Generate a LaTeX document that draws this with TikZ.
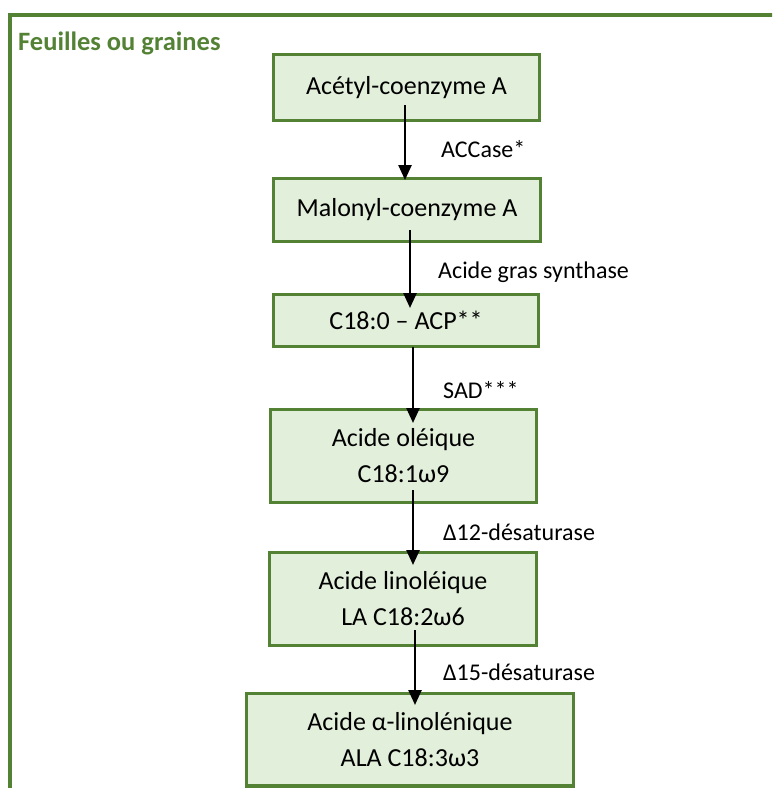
\documentclass[tikz,border=0pt]{standalone}
\usepackage{fontspec}
\setmainfont{Carlito}
\usetikzlibrary{arrows.meta,calc}
\definecolor{gborder}{HTML}{548235}
\definecolor{gfill}{HTML}{E2EFDA}
\begin{document}
\begin{tikzpicture}[x=1pt,y=-1pt,
  stepbox/.style={draw=gborder, fill=gfill, line width=3.2pt, outer sep=0pt, inner sep=0pt,
    align=center, font=\fontsize{26}{36}\selectfont},
  lbl/.style={anchor=base west, inner sep=0pt, font=\fontsize{24}{28}\selectfont},
  arr/.style={line width=2.5pt, -{Triangle[length=15pt,width=13pt]}}]
\useasboundingbox (0,0) rectangle (772,788);
\clip (0,0) rectangle (772,788);
\draw[gborder, line width=4pt] (9.5,800) -- (9.5,14.5) -- (790,14.5);
\node[anchor=base west, inner sep=0pt, text=gborder, font=\fontsize{26.5}{30}\selectfont\bfseries] (title) at (18,50) {Feuilles ou graines};

\node[stepbox, minimum width=266pt, minimum height=66pt] (b1) at (406.5,87.5) {Acétyl-coenzyme A};
\node[stepbox, minimum width=267pt, minimum height=63pt] (b2) at (407,210) {Malonyl-coenzyme A};
\node[stepbox, minimum width=265pt, minimum height=52pt] (b3) at (406,320.5) {C18:0 – ACP**};
\node[stepbox, minimum width=266pt, minimum height=93pt] (b4) at (403.5,456) {Acide oléique\\C18:1ω9};
\node[stepbox, minimum width=267pt, minimum height=93pt] (b5) at (403,599) {Acide linoléique\\LA C18:2ω6};
\node[stepbox, minimum width=327pt, minimum height=92.5pt] (b6) at (410,739.75) {Acide α-linolénique\\ALA C18:3ω3};

\draw[arr] ($(b1.south)+(-1.5,-15.5)$) -- ($(b2.north)+(-2,1.5)$);
\draw[arr] ($(b2.south)+(3,-11.5)$) -- ($(b3.north)+(4,13.5)$);
\draw[arr] ($(b3.south)+(7,0)$) -- ($(b4.north)+(9.5,13.5)$);
\draw[arr] ($(b4.south)+(9.5,-12.5)$) -- ($(b5.north)+(10,12.5)$);
\draw[arr] ($(b5.south)+(12,-15.5)$) -- ($(b6.north)+(5,11.5)$);

\node[lbl] (l1) at (441,157.7) {ACCase*};
\node[lbl] (l2) at (438,278.7) {Acide gras synthase};
\node[lbl] (l3) at (443,398.7) {SAD***};
\node[lbl] (l4) at (443,540.7) {Δ12-désaturase};
\node[lbl] (l5) at (443,680.7) {Δ15-désaturase};
\end{tikzpicture}
\end{document}
